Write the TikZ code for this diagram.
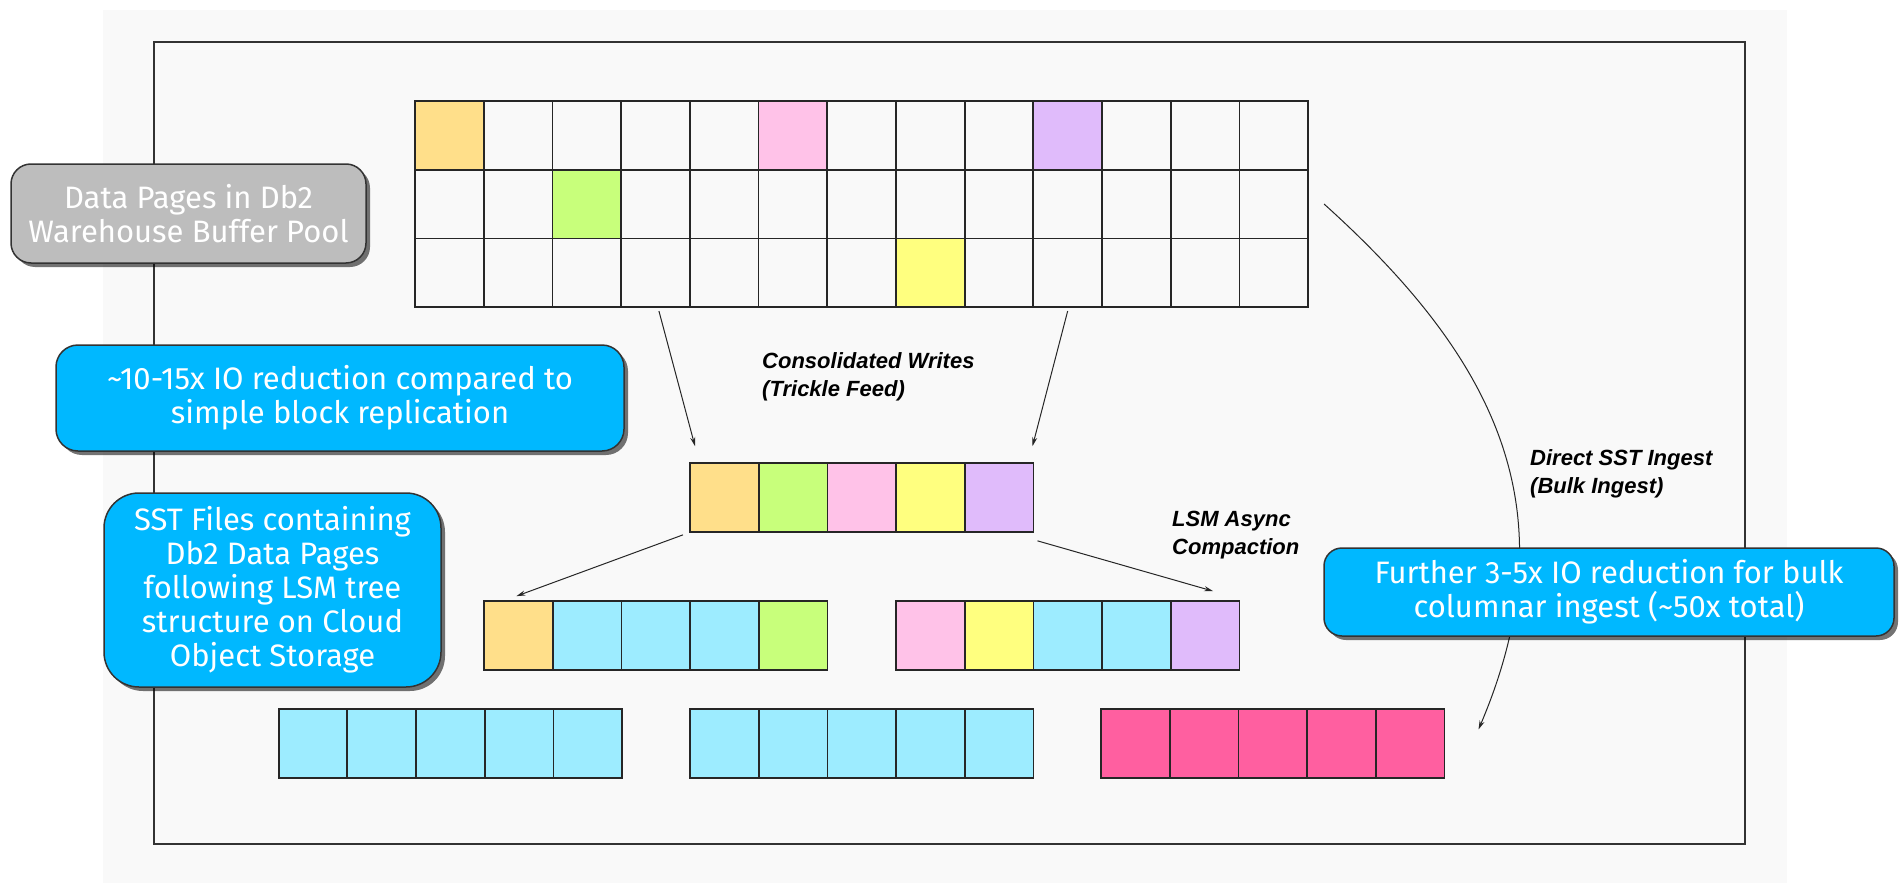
\documentclass[tikz,border=0pt]{standalone}
\usepackage{fontspec}
\newfontfamily\notefont{Fira Sans}
\newfontfamily\tagfont{Liberation Sans}
\usetikzlibrary{arrows.meta,shadows}

\definecolor{canvasgray}{HTML}{F9F9F9}
\definecolor{pgorange}{HTML}{FFDF8A}
\definecolor{pgpink}{HTML}{FFC2E8}
\definecolor{pgpurple}{HTML}{E0BBFB}
\definecolor{pggreen}{HTML}{C8FF7B}
\definecolor{pgyellow}{HTML}{FFFF7F}
\definecolor{pgcyan}{HTML}{9DECFF}
\definecolor{pgmagenta}{HTML}{FF5FA0}
\definecolor{notegray}{HTML}{BDBDBD}
\definecolor{noteblue}{HTML}{00B8FF}

\begin{document}
\begin{tikzpicture}[x=1pt, y=-1pt,
    page node/.style={draw=black!85, line width=1.8pt, minimum size=68.7pt,
                      inner sep=0pt, outer sep=0pt, fill=#1},
    page node/.default=none,
    note/.style={draw=black!80, line width=1.5pt, rounded corners=22pt, text=white,
                 align=center, inner sep=0pt, font=\notefont\fontsize{31}{34}\selectfont,
                 drop shadow={shadow xshift=4pt, shadow yshift=-4pt, opacity=0.55, fill=black}},
    tag/.style={font=\tagfont\bfseries\itshape\fontsize{22}{28}\selectfont,
                align=left, inner sep=0pt, anchor=north west},
    flow/.style={-{Stealth[length=9pt,width=5pt]}, line width=1pt, black!85}]

  \useasboundingbox (0,0) rectangle (1904,883);
  \fill[white] (0,0) rectangle (1904,883);
  \fill[canvasgray] (103,10) rectangle (1787,883);
  \draw[line width=1.8pt, black!80] (154,42) rectangle (1745,844);

  % buffer pool pages
  \foreach \r/\fills in {1/{pgorange,none,none,none,none,pgpink,none,none,none,pgpurple,none,none,none},
                         2/{none,none,pggreen,none,none,none,none,none,none,none,none,none,none},
                         3/{none,none,none,none,none,none,none,pgyellow,none,none,none,none,none}}
    \foreach \f [count=\c] in \fills
      \node[page node=\f] (top-\r-\c) at ({415+68.7*(\c-0.5)}, {101+68.7*(\r-0.5)}) {};

  % consolidated SST
  \foreach \f [count=\i] in {pgorange,pggreen,pgpink,pgyellow,pgpurple}
    \node[page node=\f] (mid-\i) at ({690+68.7*(\i-0.5)}, 497.5) {};

  % LSM level 1
  \foreach \f [count=\i] in {pgorange,pgcyan,pgcyan,pgcyan,pggreen}
    \node[page node=\f] (lvlA-\i) at ({484+68.7*(\i-0.5)}, 635.5) {};
  \foreach \f [count=\i] in {pgpink,pgyellow,pgcyan,pgcyan,pgpurple}
    \node[page node=\f] (lvlB-\i) at ({896+68.7*(\i-0.5)}, 635.5) {};

  % LSM level 2
  \foreach \i in {1,...,5} {
    \node[page node=pgcyan] (lvlC-\i) at ({278.6+68.7*(\i-0.5)}, 743.5) {};
    \node[page node=pgcyan] (lvlD-\i) at ({690+68.7*(\i-0.5)}, 743.5) {};
    \node[page node=pgmagenta] (lvlE-\i) at ({1101+68.7*(\i-0.5)}, 743.5) {};
  }

  % arrows
  \draw[flow] ([xshift=3.5pt,yshift=-4pt]top-3-4.south) -- ([xshift=5pt,yshift=17pt]mid-1.north west);
  \draw[flow] ([yshift=-4pt]top-3-10.south) -- ([xshift=-1pt,yshift=17pt]mid-5.north east);
  \draw[flow] ([xshift=-7pt,yshift=-3pt]mid-1.south west) -- ([xshift=-2pt,yshift=5pt]lvlA-1.north);
  \draw[flow] ([xshift=4pt,yshift=-9pt]mid-5.south east) -- ([xshift=8pt,yshift=10pt]lvlB-5.north);
  \draw[flow] ([xshift=16pt]top-2-13.east) to[out=-42, in=67, looseness=1.1]
              ([xshift=34pt,yshift=14pt]lvlE-5.east);

  % labels
  \node[tag] (writes) at (762,352) {Consolidated Writes\\(Trickle Feed)};
  \node[tag] (compact) at (1172,511) {LSM Async\\Compaction};
  \node[tag] (ingest) at (1530,449) {Direct SST Ingest\\(Bulk Ingest)};

  % notes
  \node[note, fill=notegray, rounded corners=20pt, minimum width=355pt, minimum height=99pt]
    (pool) at (188.5,213.5) {Data Pages in Db2\\Warehouse Buffer Pool};
  \node[note, fill=noteblue, minimum width=568pt, minimum height=106pt]
    (saving) at (340,398) {\textasciitilde10-15x IO reduction compared to\\simple block replication};
  \node[note, fill=noteblue, rounded corners=35pt, minimum width=337pt, minimum height=194pt]
    (sst) at (272.5,590) {SST Files containing\\Db2 Data Pages\\following LSM tree\\structure on Cloud\\Object Storage};
  \node[note, fill=noteblue, rounded corners=18pt, minimum width=570pt, minimum height=88pt]
    (bulk) at (1609,592) {Further 3-5x IO reduction for bulk\\columnar ingest (\textasciitilde50x total)};
\end{tikzpicture}
\end{document}
